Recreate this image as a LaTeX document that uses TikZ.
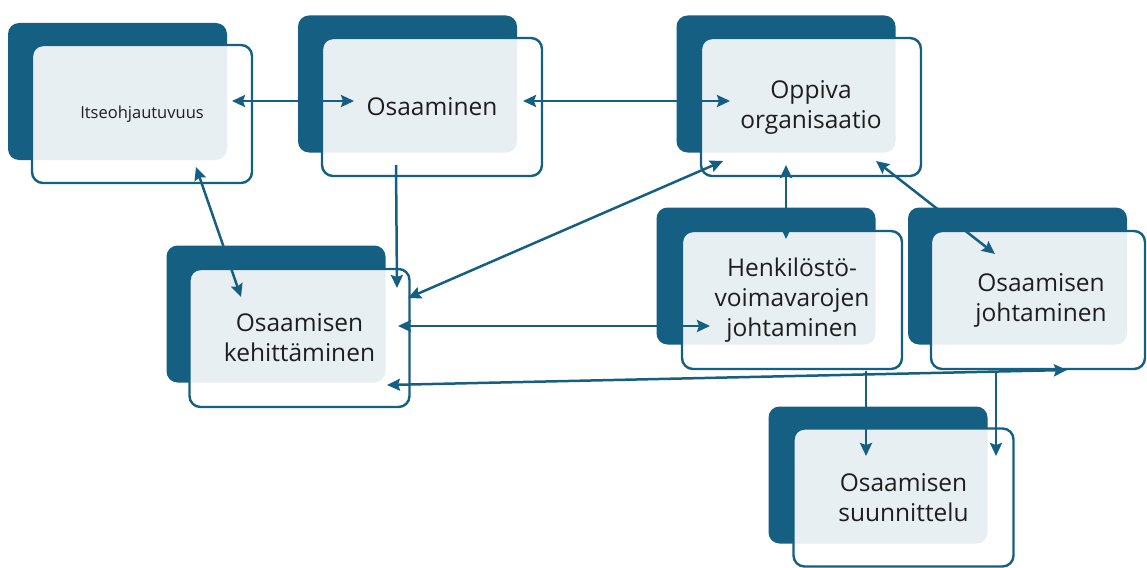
\documentclass[tikz,border=0pt]{standalone}
\usepackage{fontspec}
\setmainfont{Open Sans}
\usetikzlibrary{arrows.meta}
\definecolor{dk}{HTML}{156082}
\definecolor{txt}{HTML}{1E1E1E}
\begin{document}
\begin{tikzpicture}[x=1pt,y=-1pt,
  back/.style={fill=dk, rounded corners=11pt, minimum width=219pt, minimum height=137pt, inner sep=0pt},
  front/.style={draw=dk, line width=2.4pt, fill=white, fill opacity=0.9, text opacity=1,
    rounded corners=11pt, minimum width=220pt, minimum height=138pt, align=center,
    text=txt, font=\fontsize{24.5}{30}\selectfont, inner sep=0pt},
  link/.style={draw=dk, line width=2.5pt, {Stealth[length=13pt,width=12pt,inset=2pt]}-{Stealth[length=13pt,width=12pt,inset=2pt]}},
  flow/.style={draw=dk, line width=2.5pt, -{Stealth[length=13pt,width=12pt,inset=2pt]}}]
\useasboundingbox (0,0) rectangle (1147,567);

% boxes
\node[back] (d1) at (117.5,91.5) {};
\node[front] (n1) at (142,114) {\fontsize{16.5}{20}\selectfont Itseohjautuvuus};
\node[back] (d2) at (407.5,84) {};
\node[front] (n2) at (432,107) {Osaaminen};
\node[back] (d3) at (786,84) {};
\node[front] (n3) at (811,107) {Oppiva\\organisaatio};
\node[back] (d4) at (276,314) {};
\node[front] (n4) at (299.5,338) {Osaamisen\\kehittäminen};
\node[back] (d5) at (766,276) {};
\node[front] (n5) at (792,300) {Henkilöstö-\\voimavarojen\\johtaminen};
\node[back] (d6) at (1017.5,276) {};
\node[front, minimum width=214pt] (n6) at (1038,300) {\hspace*{6pt}Osaamisen\\\hspace*{6pt}johtaminen};
\node[back] (d7) at (878,475) {};
\node[front] (n7) at (903.5,497.5) {Osaamisen\\suunnittelu};

% connector end points
\coordinate (p1a) at (232,101);  \coordinate (p1b) at (354,101);
\coordinate (p2a) at (523,101);  \coordinate (p2b) at (730,101);
\coordinate (p3a) at (396,165);  \coordinate (p3b) at (397,288);
\coordinate (p4a) at (196,167);  \coordinate (p4b) at (241,297);
\coordinate (p5a) at (408,298);  \coordinate (p5b) at (723,161);
\coordinate (p6a) at (786,165);  \coordinate (p6b) at (786,239);
\coordinate (p7a) at (876,161);  \coordinate (p7b) at (995,254);
\coordinate (p8a) at (398,326);  \coordinate (p8b) at (710,326);
\coordinate (p9a) at (387,385);  \coordinate (p9b) at (1067,370);
\coordinate (p10a) at (866,371); \coordinate (p10b) at (866,456);
\coordinate (p11a) at (996,371); \coordinate (p11b) at (996,456);

% connectors
\draw[link] (p1a) -- (p1b);
\draw[link] (p2a) -- (p2b);
\draw[flow] (p3a) -- (p3b);
\draw[link] (p4a) -- (p4b);
\draw[link] (p5a) -- (p5b);
\draw[link] (p6a) -- (p6b);
\draw[link] (p7a) -- (p7b);
\draw[link] (p8a) -- (p8b);
\draw[link] (p9a) -- (p9b);
\draw[flow] (p10a) -- (p10b);
\draw[flow] (p11a) -- (p11b);
\end{tikzpicture}
\end{document}
